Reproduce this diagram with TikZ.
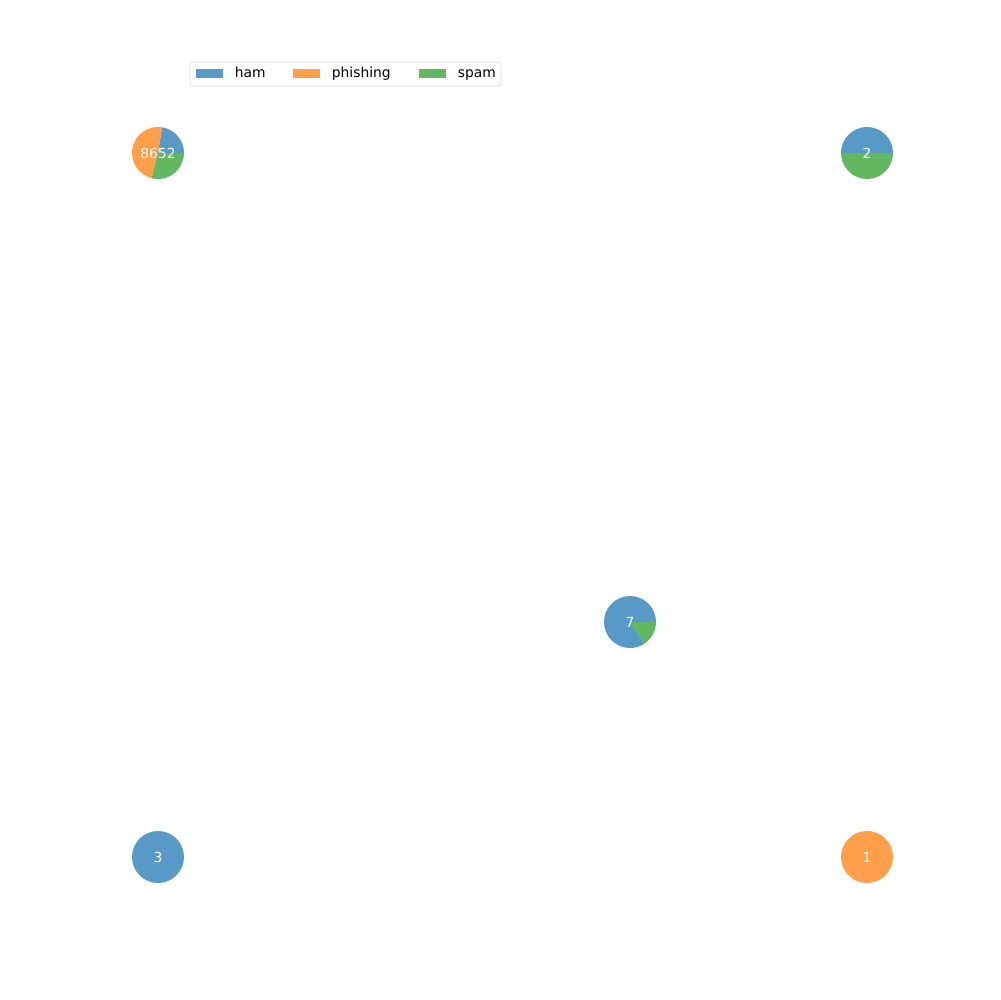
\documentclass[tikz,border=0pt]{standalone}
\usepackage{fontspec}
\setmainfont{DejaVu Sans}
\usetikzlibrary{positioning}
\definecolor{hamc}{HTML}{5799C7}
\definecolor{phishc}{HTML}{FF9F4A}
\definecolor{spamc}{HTML}{61B861}
\tikzset{lbl/.style={text=white,font=\fontsize{10}{12}\selectfont,inner sep=0pt},
  legtxt/.style={anchor=west,font=\fontsize{10}{12}\selectfont,inner sep=0pt,text height=7.3pt,text depth=2pt},
  patch/.style={minimum width=19.5pt,minimum height=6.9pt,inner sep=0pt,anchor=west}}
\begin{document}
\begin{tikzpicture}[x=0.01in,y=0.01in]
\useasboundingbox(0,0)rectangle(1000,1000);
% pie centres
\coordinate(p8652)at(158,847);
\coordinate(p2)at(867,847);
\coordinate(p7)at(630,378);
\coordinate(p3)at(158,143);
\coordinate(p1)at(867,143);
% wedges
\fill[hamc](p8652)--++(0:26)arc[start angle=0,end angle=81,radius=26]--cycle;
\fill[phishc](p8652)--++(81:26)arc[start angle=81,end angle=256,radius=26]--cycle;
\fill[spamc](p8652)--++(256:26)arc[start angle=256,end angle=360,radius=26]--cycle;
\fill[hamc](p2)--++(0:26)arc[start angle=0,end angle=180,radius=26]--cycle;
\fill[spamc](p2)--++(180:26)arc[start angle=180,end angle=360,radius=26]--cycle;
\fill[hamc](p7)--++(0:26)arc[start angle=0,end angle=304,radius=26]--cycle;
\fill[spamc](p7)--++(304:26)arc[start angle=304,end angle=360,radius=26]--cycle;
\fill[hamc](p3)circle[radius=26];
\fill[phishc](p1)circle[radius=26];
\foreach\c/\t in{p8652/8652,p2/2,p7/7,p3/3,p1/1}\node[lbl](l\t)at(\c){\t};
% legend
\draw[black!15,rounded corners=2](190,938)rectangle(501,914);
\node[patch,fill=hamc](kham)at(196,926.5){};
\node[legtxt,right=8pt of kham](tham){ham};
\node[patch,fill=phishc](kphish)at(293,926.5){};
\node[legtxt,right=8pt of kphish](tphish){phishing};
\node[patch,fill=spamc](kspam)at(419,926.5){};
\node[legtxt,right=8pt of kspam](tspam){spam};
\end{tikzpicture}
\end{document}
